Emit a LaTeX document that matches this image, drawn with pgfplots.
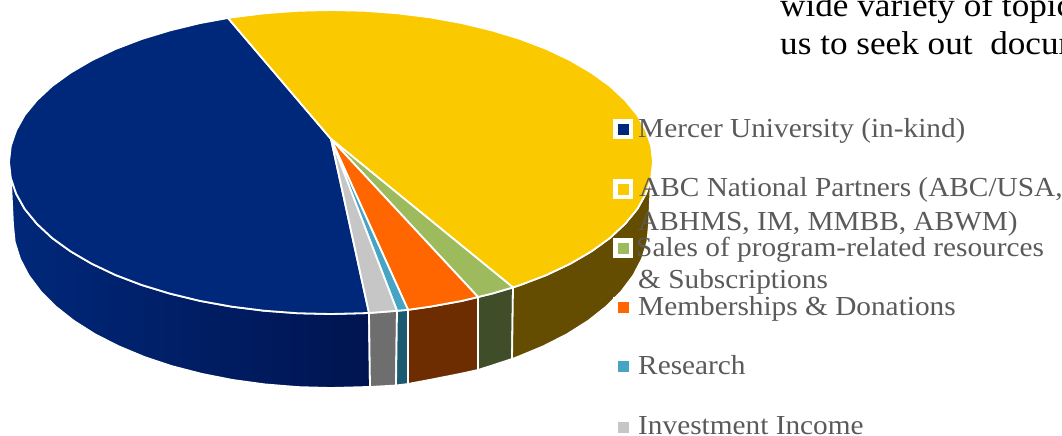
\documentclass[border=0pt]{standalone}
\usepackage{fontspec}
\setmainfont{Liberation Serif}[FakeStretch=1.066]
\usepackage{pgfplots}
\pgfplotsset{compat=1.18}
\definecolor{navytop}{HTML}{00287A}
\definecolor{navydark}{HTML}{001450}
\definecolor{yellowtop}{HTML}{FBC900}
\definecolor{greentop}{HTML}{9DBB5C}
\definecolor{orangetop}{HTML}{FF6600}
\definecolor{tealtop}{HTML}{46A5C5}
\definecolor{graytop}{HTML}{C6C6C6}
\definecolor{brownwall}{HTML}{644D00}
\definecolor{greenwall}{HTML}{3F4D28}
\definecolor{orangewall}{HTML}{6E2D00}
\definecolor{tealwall}{HTML}{1B5A70}
\definecolor{graywall}{HTML}{6E6E6E}
\definecolor{legendtext}{HTML}{5A5A5A}
\pgfplotsset{
    slice/.style={draw=white, line width=1.8pt, line join=round},
    swatch/.style={only marks, mark=square*, mark size=7.75pt,
        mark options={draw=white, line width=4.5pt, fill=#1}},
}
\newcommand{\legendfont}{\fontsize{27.5}{30}\selectfont\color{legendtext}}
\begin{document}
\begin{tikzpicture}
\useasboundingbox (0,0) rectangle (1062pt,436pt);
\begin{axis}[
    at={(0,0)}, anchor=south west,
    scale only axis,
    width=1062pt, height=436pt,
    xmin=0, xmax=1062, ymin=0, ymax=436,
    y dir=reverse,
    hide axis,
    clip=false,
]
% side walls
\addplot[slice, left color=navytop, right color=navydark] coordinates {
    (10.8,177.9) (16.1,193.6) (24.7,209) (36.9,223.8) (52.1,238) (70.5,251.3) (91.7,263.7)
    (115.5,275) (141.7,285) (170,293.6) (200,300.9) (231.5,306.6) (264.1,310.7) (297.4,313.2)
    (331,314) (369,313)
    (370,387) (364.2,387.1) (331,388) (297.8,387.1) (264.9,384.4) (232.7,380) (201.7,373.9)
    (172,366.2) (144.1,356.9) (118.2,346.1) (94.7,334.1) (73.7,320.8) (55.6,306.5) (40.5,291.3)
    (28.6,275.4) (20,258.9) (14.7,242) (13,225)
} --cycle;
\addplot[slice, fill=graywall] coordinates {(369,313) (397,310.8) (396,385.5) (370,387)} --cycle;
\addplot[slice, fill=tealwall] coordinates {(397,310.8) (408,309.8) (408,384) (396,385.5)} --cycle;
\addplot[slice, fill=orangewall] coordinates {
    (408,309.8) (430.5,306.6) (462,300.9) (478,297)
    (478,370) (460.3,373.9) (429.3,380) (408,384)
} --cycle;
\addplot[slice, fill=greenwall] coordinates {
    (478,297) (492,293.6) (513,287.4)
    (512,359) (490,366.2) (478,370)
} --cycle;
\addplot[slice, fill=brownwall] coordinates {
    (513,287.4) (520.3,285) (546.5,275) (570.3,263.7) (591.5,251.3) (609.9,238) (625.1,223.8)
    (637.3,209) (645.9,193.6) (651,178)
    (649,225) (647.3,242) (642,258.9) (633.4,275.4) (621.5,291.3) (606.4,306.5) (588.3,320.8)
    (567.3,334.1) (543.8,346.1) (517.9,356.9) (512,359)
} --cycle;
% top face
\addplot[slice, fill=navytop] coordinates {
    (331,139) (228,18) (200,23.1) (170,30.4) (141.7,39) (115.5,49) (91.7,60.3) (70.5,72.7)
    (52.1,86) (36.9,100.2) (24.7,115) (16.1,130.4) (10.8,146.1) (9,162) (10.8,177.9)
    (16.1,193.6) (24.7,209) (36.9,223.8) (52.1,238) (70.5,251.3) (91.7,263.7) (115.5,275)
    (141.7,285) (170,293.6) (200,300.9) (231.5,306.6) (264.1,310.7) (297.4,313.2) (331,314) (369,313)
} --cycle;
\addplot[slice, fill=yellowtop] coordinates {
    (331,139) (228,18) (231.5,17.4) (264.1,13.3) (297.4,10.8) (331,10) (364.6,10.8) (397.9,13.3)
    (430.5,17.4) (462,23.1) (492,30.4) (520.3,39) (546.5,49) (570.3,60.3) (591.5,72.7) (609.9,86)
    (625.1,100.2) (637.3,115) (645.9,130.4) (651.2,146.1) (653,162) (651.2,177.9) (645.9,193.6)
    (637.3,209) (625.1,223.8) (609.9,238) (591.5,251.3) (570.3,263.7) (546.5,275) (520.3,285) (513,287.4)
} --cycle;
\addplot[slice, fill=greentop] coordinates {(331,139) (513,287.4) (492,293.6) (478,297)} --cycle;
\addplot[slice, fill=orangetop] coordinates {(331,139) (478,297) (462,300.9) (430.5,306.6) (408,309.8)} --cycle;
\addplot[slice, fill=tealtop] coordinates {(331,139) (408,309.8) (397,310.8)} --cycle;
\addplot[slice, fill=graytop] coordinates {(331,139) (397,310.8) (369,313)} --cycle;
% legend
\node[anchor=base west, inner sep=0pt] at (axis cs:638,137) {\legendfont Mercer University (in-kind)};
\node[anchor=base west, inner sep=0pt] at (axis cs:639,196) {\legendfont ABC National Partners (ABC/USA,};
\node[anchor=base west, inner sep=0pt] at (axis cs:638,230) {\legendfont ABHMS, IM, MMBB, ABWM)};
\node[anchor=base west, inner sep=0pt] at (axis cs:636,256) {\legendfont Sales of program-related resources};
\node[anchor=base west, inner sep=0pt] at (axis cs:638,288) {\legendfont \&~Subscriptions};
\node[anchor=base west, inner sep=0pt] at (axis cs:638,315) {\legendfont Memberships \&~Donations};
\node[anchor=base west, inner sep=0pt] at (axis cs:638,374) {\legendfont Research};
\node[anchor=base west, inner sep=0pt] at (axis cs:638,434) {\legendfont Investment Income};
\addplot[swatch=navytop] coordinates {(623,129)};
\addplot[swatch=yellowtop] coordinates {(623,189)};
\addplot[swatch=greentop] coordinates {(623,248)};
\addplot[swatch=orangetop] coordinates {(623,307)};
\addplot[swatch=tealtop] coordinates {(623,366)};
\addplot[swatch=graytop] coordinates {(623,427)};
% running text of the page behind the chart
\node[anchor=base west, inner sep=0pt] at (axis cs:780,17) {\fontsize{33}{36}\selectfont wide variety of topics};
\node[anchor=base west, inner sep=0pt] at (axis cs:780,55) {\fontsize{33}{36}\selectfont us to seek out\ \ documents};
\end{axis}
\end{tikzpicture}
\end{document}
